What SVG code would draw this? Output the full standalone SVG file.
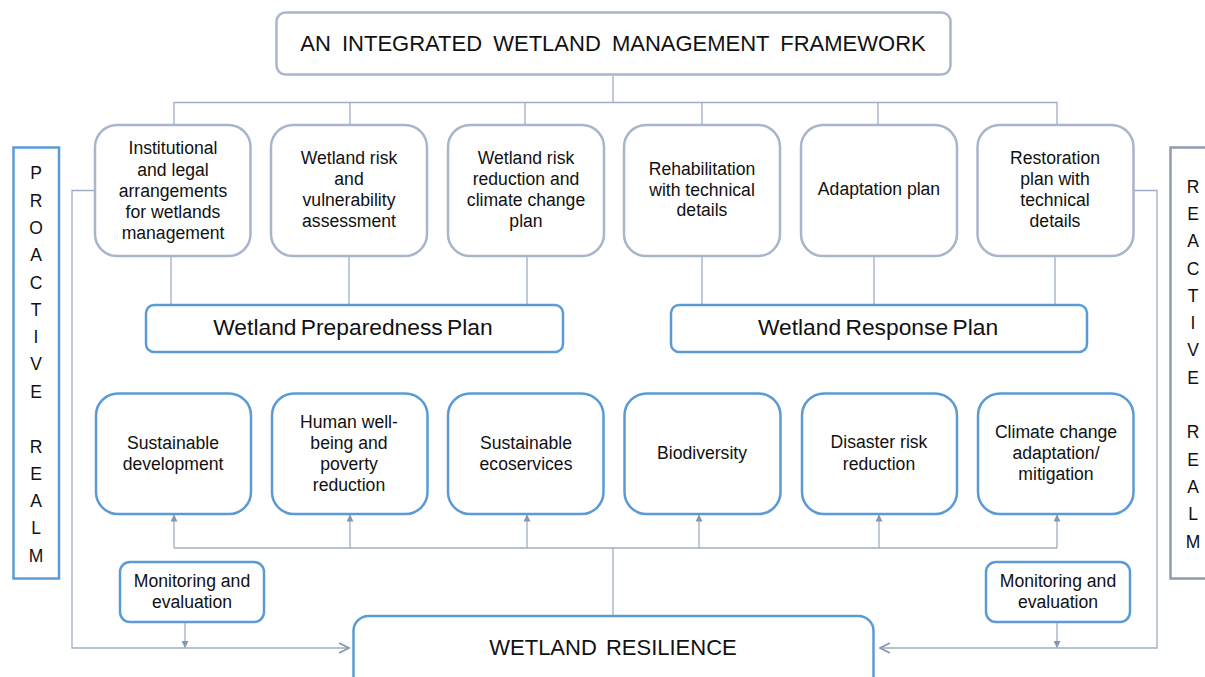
<svg xmlns="http://www.w3.org/2000/svg" width="1205" height="677" viewBox="0 0 1205 677">
<style>
text{font-family:"Liberation Sans",Arial,sans-serif;fill:#111;text-anchor:middle}
.t17{font-size:17.6px}
.t22{font-size:22px}
.tp{font-size:22.8px;word-spacing:-2px}
.grey{fill:#fff;stroke:#A8B5CA;stroke-width:2.5}
.blue{fill:#fff;stroke:#5B9BD5;stroke-width:2.5}
.conn{fill:none;stroke:#9FAEC5;stroke-width:1.3}
.realm{font-size:17.5px}
</style>
<defs>
<marker id="ah" viewBox="0 0 10 10" refX="10" refY="5" markerWidth="7" markerHeight="7" markerUnits="userSpaceOnUse" orient="auto">
<path d="M0,0 L10,5 L0,10 Z" fill="#8497B0"/>
</marker>
<marker id="ao" viewBox="0 0 12 12" refX="11" refY="6" markerWidth="12" markerHeight="12" markerUnits="userSpaceOnUse" orient="auto">
<path d="M1,1 L11,6 L1,11" fill="none" stroke="#8497B0" stroke-width="1.6"/>
</marker>
</defs>
<rect width="1205" height="677" fill="#fff"/>

<g id="connectors">
<path class="conn" d="M613,76 V102.5 M174,125 V102.5 H1057 V125 M350,102.5 V125 M525,102.5 V125 M702,102.5 V125 M878,102.5 V125"/>
<path class="conn" d="M171,256 V305 M349,256 V305 M527,256 V305 M702,256 V305 M874,256 V305 M1055,256 V305"/>
<path class="conn" d="M174,548 H1057 M613,548 V616"/>
<path class="conn" marker-end="url(#ah)" d="M174,548 V514.5"/>
<path class="conn" marker-end="url(#ah)" d="M350,548 V514.5"/>
<path class="conn" marker-end="url(#ah)" d="M527,548 V514.5"/>
<path class="conn" marker-end="url(#ah)" d="M699,548 V514.5"/>
<path class="conn" marker-end="url(#ah)" d="M879,548 V514.5"/>
<path class="conn" marker-end="url(#ah)" d="M1057,548 V514.5"/>
<path class="conn" marker-end="url(#ao)" d="M95,190.5 H72 V648 H349"/>
<path class="conn" marker-end="url(#ao)" d="M1134,190.5 H1157 V648 H880"/>
<path class="conn" marker-end="url(#ah)" d="M185,623 V648"/>
<path class="conn" marker-end="url(#ah)" d="M1057,623 V648"/>
</g>

<g id="title">
<rect class="grey" x="276.5" y="12.5" width="674" height="62" rx="9"/>
<text class="t22" x="613" y="51" word-spacing="5">AN INTEGRATED WETLAND MANAGEMENT FRAMEWORK</text>
</g>

<g id="proactive">
<rect x="13.5" y="147.5" width="45.5" height="431" fill="#fff" stroke="#5B9BD5" stroke-width="2.5"/>
<text class="realm" x="36" y="179">P</text>
<text class="realm" x="36" y="207">R</text>
<text class="realm" x="36" y="234">O</text>
<text class="realm" x="36" y="261">A</text>
<text class="realm" x="36" y="289">C</text>
<text class="realm" x="36" y="316">T</text>
<text class="realm" x="36" y="343">I</text>
<text class="realm" x="36" y="370">V</text>
<text class="realm" x="36" y="398">E</text>
<text class="realm" x="36" y="453">R</text>
<text class="realm" x="36" y="480">E</text>
<text class="realm" x="36" y="507">A</text>
<text class="realm" x="36" y="534">L</text>
<text class="realm" x="36" y="562">M</text>
</g>

<g id="reactive">
<rect x="1170.5" y="147.5" width="50" height="431" fill="#fff" stroke="#8E9BB0" stroke-width="2.5"/>
<text class="realm" x="1193" y="193">R</text>
<text class="realm" x="1193" y="220">E</text>
<text class="realm" x="1193" y="247">A</text>
<text class="realm" x="1193" y="275">C</text>
<text class="realm" x="1193" y="302">T</text>
<text class="realm" x="1193" y="329">I</text>
<text class="realm" x="1193" y="356">V</text>
<text class="realm" x="1193" y="384">E</text>
<text class="realm" x="1193" y="438">R</text>
<text class="realm" x="1193" y="466">E</text>
<text class="realm" x="1193" y="493">A</text>
<text class="realm" x="1193" y="520">L</text>
<text class="realm" x="1193" y="548">M</text>
</g>

<g id="institutional">
<rect class="grey" x="95" y="125" width="155.5" height="131" rx="22"/>
<text class="t17" x="173" y="154">Institutional</text>
<text class="t17" x="173" y="176">and legal</text>
<text class="t17" x="173" y="197">arrangements</text>
<text class="t17" x="173" y="218">for wetlands</text>
<text class="t17" x="173" y="239">management</text>
</g>
<g id="risk-assessment">
<rect class="grey" x="271" y="125" width="156" height="131" rx="22"/>
<text class="t17" x="349" y="164">Wetland risk</text>
<text class="t17" x="349" y="185">and</text>
<text class="t17" x="349" y="206">vulnerability</text>
<text class="t17" x="349" y="227">assessment</text>
</g>
<g id="risk-reduction">
<rect class="grey" x="448" y="125" width="156" height="131" rx="22"/>
<text class="t17" x="526" y="164">Wetland risk</text>
<text class="t17" x="526" y="185">reduction and</text>
<text class="t17" x="526" y="206">climate change</text>
<text class="t17" x="526" y="227">plan</text>
</g>
<g id="rehabilitation">
<rect class="grey" x="624" y="125" width="156" height="131" rx="22"/>
<text class="t17" x="702" y="175">Rehabilitation</text>
<text class="t17" x="702" y="196">with technical</text>
<text class="t17" x="702" y="216">details</text>
</g>
<g id="adaptation">
<rect class="grey" x="801" y="125" width="156" height="131" rx="22"/>
<text class="t17" x="879" y="195">Adaptation plan</text>
</g>
<g id="restoration">
<rect class="grey" x="977.5" y="125" width="156" height="131" rx="22"/>
<text class="t17" x="1055" y="164">Restoration</text>
<text class="t17" x="1055" y="185">plan with</text>
<text class="t17" x="1055" y="206">technical</text>
<text class="t17" x="1055" y="227">details</text>
</g>

<g id="preparedness">
<rect class="blue" x="146" y="305" width="417" height="47" rx="8"/>
<text class="tp" x="353" y="335">Wetland Preparedness Plan</text>
</g>
<g id="response">
<rect class="blue" x="671" y="305" width="416" height="47" rx="8"/>
<text class="tp" x="878" y="335">Wetland Response Plan</text>
</g>

<g id="sustainable-development">
<rect class="blue" x="96" y="393.5" width="155" height="120.5" rx="22"/>
<text class="t17" x="173" y="449">Sustainable</text>
<text class="t17" x="173" y="470">development</text>
</g>
<g id="human-wellbeing">
<rect class="blue" x="272" y="393.5" width="155.5" height="120.5" rx="22"/>
<text class="t17" x="349" y="428">Human well-</text>
<text class="t17" x="349" y="449">being and</text>
<text class="t17" x="349" y="470">poverty</text>
<text class="t17" x="349" y="491">reduction</text>
</g>
<g id="ecoservices">
<rect class="blue" x="448" y="393.5" width="155.5" height="120.5" rx="22"/>
<text class="t17" x="526" y="449">Sustainable</text>
<text class="t17" x="526" y="470">ecoservices</text>
</g>
<g id="biodiversity">
<rect class="blue" x="624.5" y="393.5" width="156" height="120.5" rx="22"/>
<text class="t17" x="702" y="459">Biodiversity</text>
</g>
<g id="disaster">
<rect class="blue" x="802" y="393.5" width="155" height="120.5" rx="22"/>
<text class="t17" x="879" y="448">Disaster risk</text>
<text class="t17" x="879" y="470">reduction</text>
</g>
<g id="climate">
<rect class="blue" x="978" y="393.5" width="155.5" height="120.5" rx="22"/>
<text class="t17" x="1056" y="438">Climate change</text>
<text class="t17" x="1056" y="459">adaptation/</text>
<text class="t17" x="1056" y="480">mitigation</text>
</g>

<g id="monitoring-left">
<rect class="blue" x="120" y="562" width="144" height="60" rx="10"/>
<text class="t17" x="192" y="587">Monitoring and</text>
<text class="t17" x="192" y="608">evaluation</text>
</g>
<g id="monitoring-right">
<rect class="blue" x="986" y="562" width="144" height="60" rx="10"/>
<text class="t17" x="1058" y="587">Monitoring and</text>
<text class="t17" x="1058" y="608">evaluation</text>
</g>

<g id="resilience">
<rect class="blue" x="353.5" y="616" width="520" height="90" rx="15"/>
<text class="t22" x="613" y="655" word-spacing="3">WETLAND RESILIENCE</text>
</g>
</svg>
